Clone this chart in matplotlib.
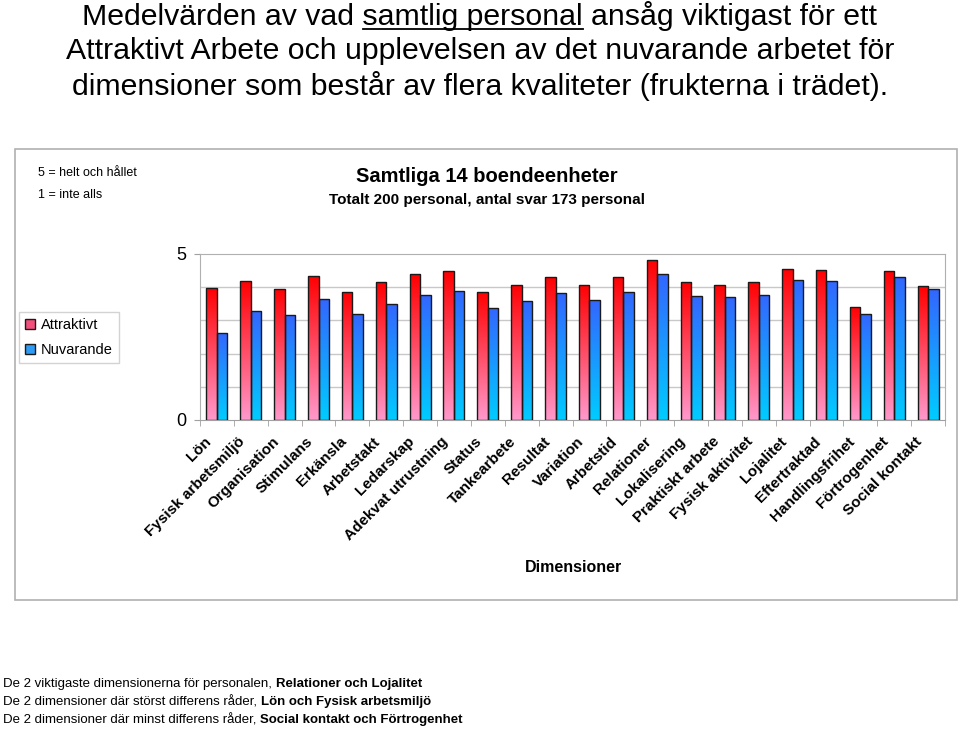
import numpy as np
import matplotlib.pyplot as plt
import matplotlib.transforms as mtransforms
from matplotlib.patches import Rectangle, Patch
from matplotlib.lines import Line2D
from matplotlib.colors import LinearSegmentedColormap

plt.rcParams['font.family'] = ['Liberation Sans', 'DejaVu Sans']

# Data
dimensioner = ['Lön', 'Fysisk arbetsmiljö', 'Organisation', 'Stimulans', 'Erkänsla',
               'Arbetstakt', 'Ledarskap', 'Adekvat utrustning', 'Status', 'Tankearbete',
               'Resultat', 'Variation', 'Arbetstid', 'Relationer', 'Lokalisering',
               'Praktiskt arbete', 'Fysisk aktivitet', 'Lojalitet', 'Eftertraktad',
               'Handlingsfrihet', 'Förtrogenhet', 'Social kontakt']
attraktivt = [3.99, 4.19, 3.95, 4.35, 3.86, 4.15, 4.39, 4.48, 3.86, 4.07, 4.31,
              4.07, 4.31, 4.81, 4.15, 4.07, 4.15, 4.56, 4.52, 3.41, 4.48, 4.03]
nuvarande = [2.63, 3.28, 3.16, 3.65, 3.20, 3.49, 3.78, 3.90, 3.36, 3.57, 3.82,
             3.61, 3.86, 4.39, 3.73, 3.69, 3.78, 4.23, 4.19, 3.20, 4.31, 3.94]

red_cmap = LinearSegmentedColormap.from_list('red', ['#FF99CC', '#FF0000'])
blue_cmap = LinearSegmentedColormap.from_list('blue', ['#00CCFF', '#3366FF'])
grad = np.linspace(0, 1, 256).reshape(-1, 1)

W, H = 960, 733
fig = plt.figure(figsize=(9.6, 7.33), dpi=100)

def fx(px):
    return px / W

def fy(py):
    return 1 - py / H

# outer chart frame
fig.patches.append(Rectangle((fx(15), fy(600)), fx(942), 451 / H, transform=fig.transFigure,
                             fill=False, edgecolor='#B0B0B0', linewidth=1.2))

ax = fig.add_axes([fx(200), fy(420), 745 / W, 166 / H])
n = len(dimensioner)
x = np.arange(n)
bw = 0.31

def grad_bars(xs, vals, cmap):
    bars = ax.bar(xs, vals, width=bw, facecolor='none', edgecolor='#1a1a1a',
                  linewidth=1.0, zorder=4)
    for b in bars:
        x0 = b.get_x()
        h = b.get_height()
        im = ax.imshow(grad, cmap=cmap, origin='lower', aspect='auto',
                       extent=[x0, x0 + bw, 0, h], zorder=3, interpolation='bilinear')
        im.set_clip_path(b)
    return bars

grad_bars(x - bw / 2, attraktivt, red_cmap)
grad_bars(x + bw / 2, nuvarande, blue_cmap)

for g in [1, 2, 3, 4]:
    ax.axhline(g, color='#C8C8C8', linewidth=1.0, zorder=1)

ax.set_xlim(-0.5, n - 0.5)
ax.set_ylim(0, 5)
for s in ax.spines.values():
    s.set_color('#B0B0B0')
ax.spines['bottom'].set_color('#A0A0A0')

ax.set_yticks([0, 5])
ax.set_yticklabels(['0', '5'], fontsize=13)
ax.tick_params(axis='y', length=4, color='#A0A0A0', pad=6)

ax.set_xticks(np.arange(n + 1) - 0.5, minor=True)
ax.tick_params(axis='x', which='minor', length=4, color='#A0A0A0')
ax.set_xticks(x)
ax.set_xticklabels(dimensioner, rotation=45, ha='right', va='center',
                   rotation_mode='anchor', fontsize=11, fontweight='bold')
ax.tick_params(axis='x', which='major', length=0, pad=14)
shift = mtransforms.ScaledTranslation(-8 / 100, 0, fig.dpi_scale_trans)
for lbl in ax.get_xticklabels():
    lbl.set_transform(lbl.get_transform() + shift)

# titles and texts
title_lines = ['Medelvärden av vad samtlig personal ansåg viktigast för ett',
               'Attraktivt Arbete och upplevelsen av det nuvarande arbetet för',
               'dimensioner som består av flera kvaliteter (frukterna i trädet).']
tsize = 21.8
for i, line in enumerate(title_lines):
    fig.text(0.5, fy(16 + 35 * i), line, ha='center', va='center', fontsize=tsize)

# underline "samtlig personal"
renderer = fig.canvas.get_renderer()

def text_width(s):
    t = fig.text(0, 0, s, fontsize=tsize)
    w = t.get_window_extent(renderer).width
    t.remove()
    return w

full_w = text_width(title_lines[0])
pre_w = text_width('Medelvärden av vad ')
ul_w = text_width('samtlig personal')
x_start = W / 2 - full_w / 2 + pre_w
fig.add_artist(Line2D([fx(x_start), fx(x_start + ul_w)], [fy(29), fy(29)],
                      transform=fig.transFigure, color='black', linewidth=1.3))

fig.text(fx(487), fy(177), 'Samtliga 14 boendeenheter', ha='center', va='center',
         fontsize=14.5, fontweight='bold')
fig.text(fx(487), fy(200), 'Totalt 200 personal, antal svar 173 personal', ha='center',
         va='center', fontsize=11, fontweight='bold')
fig.text(fx(38), fy(173), '5 = helt och hållet', ha='left', va='center', fontsize=9)
fig.text(fx(38), fy(195), '1 = inte alls', ha='left', va='center', fontsize=9)
fig.text(fx(573), fy(568), 'Dimensioner', ha='center', va='center', fontsize=11.5,
         fontweight='bold')

handles = [Patch(facecolor='#F2507A', edgecolor='#1a1a1a', label='Attraktivt'),
           Patch(facecolor='#2E9BF5', edgecolor='#1a1a1a', label='Nuvarande')]
leg = fig.legend(handles=handles, loc='upper left', bbox_to_anchor=(fx(19), fy(312)),
                 frameon=True, fancybox=False, edgecolor='#C8C8C8', fontsize=10.5,
                 handlelength=0.7, handleheight=0.7, handletextpad=0.4,
                 borderaxespad=0, labelspacing=0.75, borderpad=0.4)
leg.get_frame().set_linewidth(1.0)

# bottom summary lines (plain + bold part)
lines = [('De 2 viktigaste dimensionerna för personalen, ', 'Relationer och Lojalitet'),
         ('De 2 dimensioner där störst differens råder, ', 'Lön och Fysisk arbetsmiljö'),
         ('De 2 dimensioner där minst differens råder, ', 'Social kontakt och Förtrogenhet')]
for i, (plain, bold) in enumerate(lines):
    t = fig.text(fx(3), fy(684 + 18 * i), plain, ha='left', va='center', fontsize=9.5)
    ax.annotate(bold, xy=(1, 0.5), xycoords=t, ha='left', va='center',
                fontsize=9.5, fontweight='bold', annotation_clip=False)

fig.savefig('out.png', dpi=100)
